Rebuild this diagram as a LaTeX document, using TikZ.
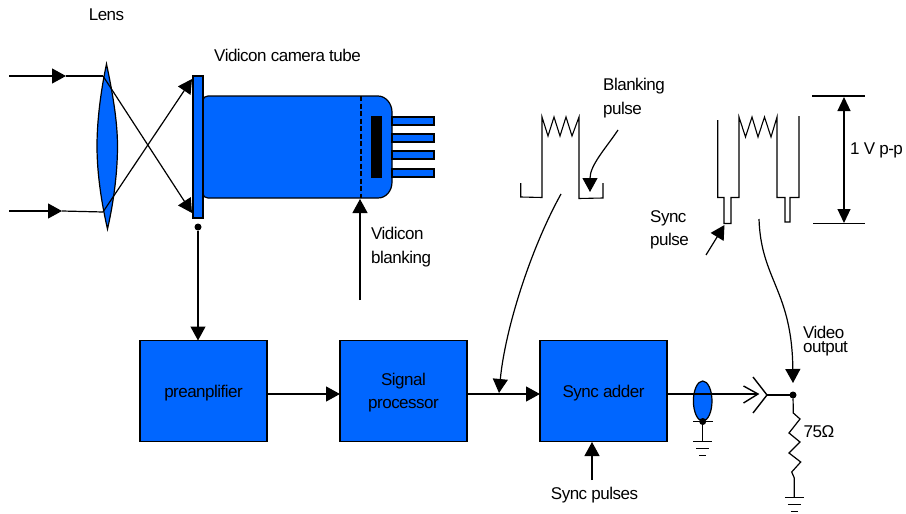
\documentclass[tikz,border=0pt]{standalone}
\usepackage{fontspec}
\setmainfont{Liberation Sans}
\usepackage{tikz}
\usetikzlibrary{positioning,arrows.meta,shapes.geometric}
\definecolor{tubeblue}{HTML}{0066FF}
\tikzset{
  block/.style={draw,fill=tubeblue,line width=1.2pt,minimum width=127pt,minimum height=101.5pt,outer sep=0pt,inner sep=2pt,text depth=0pt,align=center,font=\fontsize{17}{23}\selectfont\addfontfeatures{LetterSpace=-3}},
  lbl/.style={inner sep=0pt,align=left,font=\fontsize{17}{23.5}\selectfont\addfontfeatures{LetterSpace=-3}},
  wire/.style={line width=1.2pt},
  arr/.style={line width=1.2pt,-{Triangle[length=14pt,width=15pt]}},
  tipb/.style={fill=black,draw=none,circle,minimum size=7pt,inner sep=0pt,outer sep=0pt},
  wave/.style={line width=1.1pt,line join=miter},
  pics/gnd/.style={code={
    \draw[wire] (-9.5,0) -- (9.5,0);
    \draw[wire] (-6.5,7) -- (6.5,7);
    \draw[wire] (-3.5,14) -- (3.5,14);
  }}
}
\begin{document}
\begin{tikzpicture}[x=1pt,y=-1pt]
\useasboundingbox (0,0) rectangle (906,514);
% lens
\draw[fill=tubeblue,line width=1.2pt] (106.5,64) .. controls (101,90) and (97,120) .. (97,146) .. controls (97,175) and (102,205) .. (107.5,229) .. controls (113,205) and (117.5,175) .. (117.5,146) .. controls (117.5,120) and (112,90) .. (106.5,64) -- cycle;
% tube
\draw[fill=tubeblue,line width=1.2pt] (208,96) -- (378,96) .. controls (386,96) and (392,104) .. (392,112) -- (392,182) .. controls (392,191) and (386,198) .. (378,198) -- (208,198) .. controls (205,198) and (203,196) .. (203,194) -- (203,100) .. controls (203,98) and (205,96) .. (208,96) -- cycle;
\node[draw,fill=tubeblue,line width=1.2pt,minimum width=10pt,minimum height=142pt,inner sep=0pt,outer sep=0pt] (plate) at (198,147) {};
\node[fill=black,minimum width=11pt,minimum height=62pt,inner sep=0pt] (gun) at (376.5,147) {};
\foreach \y in {121,138,155,173}
  \draw[fill=tubeblue,line width=1.1pt] (392,\y-4) rectangle (434,\y+4);
\coordinate (meshtop) at (361,96);
\coordinate (meshbot) at (361,198);
\draw[dash pattern=on 5pt off 2.5pt,line width=1.1pt] (meshtop) -- (meshbot);
% rays
\coordinate (raya) at (9,76);
\coordinate (rayb) at (9,211);
\coordinate (lensa) at (103,76);
\coordinate (lensb) at (103,212);
\coordinate (imga) at (192,213);
\coordinate (imgb) at (192,79);
\draw[arr] (raya) -- (66,76);
\draw[wire] (66,76) -- (lensa);
\draw[arr] (rayb) -- (62,211);
\draw[wire] (62,211) -- (lensb);
\draw[arr] (lensa) -- (imga);
\draw[arr] (lensb) -- (imgb);
% blocks
\node[block] (pre) at (203.5,391) {preanplifier};
\node[block,right=73pt of pre] (sig) {Signal\\processor};
\node[block,right=73pt of sig] (add) {Sync adder};
\node[tipb] (tap) at (198,227) {};
\coordinate (pretop) at (198,340.5);
\coordinate (bus) at (0,394);
\draw[arr] (tap) -- (pretop);
\draw[arr] (pre.east |- bus) -- (sig.west |- bus);
\draw[arr] (sig.east |- bus) -- (add.west |- bus);
% vidicon blanking
\coordinate (blankin) at (360,300);
\coordinate (blankto) at (360,199);
\draw[arr] (blankin) -- (blankto);
% labels
\node[lbl] (lenslbl) at (106.5,15) {Lens};
\node[lbl] (tubelbl) at (287.5,55) {Vidicon camera tube};
\node[lbl,anchor=north west] (blanklbl) at (371,227) {Vidicon\\blanking};
\node[lbl,anchor=north west] (pulselbl) at (603,78) {Blanking\\pulse};
\node[lbl,anchor=north west] (synclbl) at (650,210) {Sync\\pulse};
\node[lbl] (vpp) at (876.5,150) {1 V p-p};
\node[lbl,align=left,anchor=north west,font=\fontsize{17}{13.5}\selectfont\addfontfeatures{LetterSpace=-3}] (vidlbl) at (803,326) {Video\\output};
\node[lbl] (ohm) at (819,432) {75Ω};
\node[lbl] (pulses) at (594.5,495) {Sync pulses};
% blanking waveform
\draw[wave] (520.7,183) -- (520.7,197) -- (542,197.5) -- (542,117) -- (548,136) -- (554,117) -- (560,136) -- (566,117) -- (572,136) -- (579,117) -- (579,198.5) -- (603,198) -- (603,183);
\coordinate (bpa) at (618,130);
\coordinate (bpb) at (590,192);
\draw[arr] (bpa) .. controls (606,148) and (590,165) .. (bpb);
\coordinate (wavea) at (561,194);
\coordinate (addin) at (499,393);
\draw[arr] (wavea) .. controls (530,250) and (505,330) .. (addin);
% video waveform
\draw[wave] (717.7,120) -- (717.7,197.5) -- (724,197.5) -- (724,223.5) -- (731,223.5) -- (731,197.5) -- (739,197.5) -- (739,117) -- (745.5,137) -- (752,117) -- (758,137) -- (764.5,117) -- (771,137) -- (777,117) -- (777,197.5) -- (785,197.5) -- (785,222) -- (790,222) -- (790,197.5) -- (799,197.5) -- (799,116);
\coordinate (spa) at (706,255);
\coordinate (spb) at (724.5,225);
\draw[arr] (spa) -- (spb);
\coordinate (waveb) at (759,219);
\coordinate (vidtip) at (793,383);
\draw[arr] (waveb) .. controls (761,280) and (792,290) .. (vidtip);
% 1 V p-p
\coordinate (vtl) at (812,96);
\coordinate (vtr) at (865,96);
\coordinate (vbl) at (813,223.7);
\coordinate (vbr) at (865,223.7);
\draw[wire] (vtl) -- (vtr);
\draw[wire] (vbl) -- (vbr);
\coordinate (vtop) at (844,97);
\coordinate (vbot) at (844,223);
\draw[line width=1.2pt,{Triangle[length=14pt,width=13pt]}-{Triangle[length=14pt,width=13pt]}] (vtop) -- (vbot);
% sync pulses
\coordinate (sp) at (592,480);
\coordinate (addbot) at (592,442);
\draw[arr] (sp) -- (addbot);
% output side
\node[draw,fill=tubeblue,ellipse,line width=1.2pt,minimum width=18.6pt,minimum height=40pt,inner sep=0pt,outer sep=0pt] (bead) at (702.7,401) {};
\node[tipb] (beaddot) at (702.7,421.5) {};
\coordinate (plugtip) at (758,394);
\draw[line width=1.4pt] (add.east |- plugtip) -- (plugtip);
\draw[line width=1.4pt] (743.5,386) -- (plugtip) -- (743.5,403);
\coordinate (jack) at (767,395);
\node[tipb] (out) at (793,395) {};
\draw[line width=1.4pt] (753,377) -- (jack) -- (753,413);
\draw[line width=1.4pt] (jack) -- (out);
\draw[wire] (693,421.7) -- (713,421.7);
\coordinate (gnda) at (702.7,441.7);
\draw[wire] (beaddot) -- (gnda);
\pic at (gnda) {gnd};
\coordinate (gndb) at (794.3,497.5);
\draw[wire,line join=miter] (out) -- (793.3,413) -- (800,419) -- (789,433) -- (800,442) -- (789,453) -- (800.7,462) -- (791.7,472) -- (794.3,478) -- (gndb);
\pic at (gndb) {gnd};
\end{tikzpicture}
\end{document}
